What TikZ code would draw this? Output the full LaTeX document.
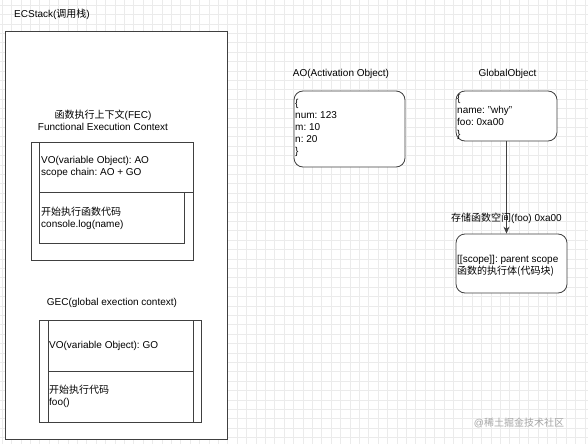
\documentclass[tikz,border=0pt]{standalone}
\usepackage{fontspec}
\setmainfont{Liberation Sans}
\newfontfamily\cjk{Noto Sans CJK SC}
\usepackage{tikz}
\usetikzlibrary{positioning,arrows.meta}
\frenchspacing
\tikzset{
  box/.style={rectangle, draw=black!75, line width=0.8pt, fill=white, inner sep=0pt},
  roundbox/.style={box, rounded corners=9pt},
  txt/.style={inner sep=0pt, align=left, anchor=west, font=\fontsize{10}{12}\selectfont},
  title/.style={inner sep=0pt, align=center, font=\fontsize{10}{12.5}\selectfont},
  link/.style={-{Stealth[length=7pt,width=6pt]}, line width=0.8pt, draw=black!75},
}
\begin{document}
\begin{tikzpicture}[x=1pt,y=-1pt]
  \useasboundingbox (0,0) rectangle (588,444);
  % background grid
  \fill[white] (0,0) rectangle (588,444);
  \foreach \i in {0,...,63} {
    \draw[black!8, line width=0.4pt] (\i*9.4+2,0) -- (\i*9.4+2,444);
  }
  \foreach \j in {0,...,47} {
    \draw[black!8, line width=0.4pt] (0,\j*9.4+5) -- (588,\j*9.4+5);
  }

  % call stack
  \node[title, anchor=west] (ecslab) at (14,14) {ECStack({\cjk 调用栈})};
  \node[box, minimum width=222pt, minimum height=408pt] (ecstack) at (116,235) {};

  % function execution context
  \node[title] (feclab) at (103,120.5) {{\cjk 函数执行上下文}(FEC)\\Functional Execution Context};
  \node[box, minimum width=162pt, minimum height=118pt] (fec) at (112,201) {};
  \node[box, minimum width=154pt, minimum height=50pt] (fecvo) at (116,167) {};
  \node[box, minimum width=145pt, minimum height=51pt] (feccode) at (111.5,217.5) {};
  \node[txt] (fecvotxt) at (41,167) {VO(variable Object): AO\\scope chain: AO + GO};
  \node[txt] (feccodetxt) at (41,218.5) {{\cjk 开始执行函数代码}\\console.log(name)};

  % global execution context
  \node[title] (geclab) at (112,303) {GEC(global exection context)};
  \node[box, minimum width=162pt, minimum height=102pt] (gec) at (120,371) {};
  \node[box, minimum width=145pt, minimum height=51pt] (gecvo) at (120.5,345.5) {};
  \node[box, minimum width=145pt, minimum height=51pt] (geccode) at (120.5,396.5) {};
  \node[txt] (gecvotxt) at (49,346) {VO(variable Object): GO};
  \node[txt] (geccodetxt) at (49,396.5) {{\cjk 开始执行代码}\\foo()};

  % activation object
  \node[title] (aolab) at (341,74) {AO(Activation Object)};
  \node[roundbox, minimum width=111pt, minimum height=76pt] (ao) at (349.5,129) {};
  \node[txt] (aotxt) at (295,128) {\{\\num: 123\\m: 10\\n: 20\\\}};

  % global object
  \node[title] (golab) at (507.5,74) {GlobalObject};
  \node[roundbox, minimum width=101pt, minimum height=50pt] (go) at (506.5,116) {};
  \node[txt] (gotxt) at (457,116.5) {\{\\name: "why"\\foo: 0xa00\\\}};

  % function object
  \node[roundbox, minimum width=111pt, minimum height=59pt] (fn) at (511.5,263.5) {};
  \node[txt] (fntxt) at (457,265.5) {[[scope]]: parent scope\\{\cjk 函数的执行体(代码块)}};

  \draw[link] (go.south) -- (go.south |- fn.north)
    node[title, pos=0.83, fill=none] (fnlab) {{\cjk 存储函数空间}(foo) 0xa00};

  \node[title, text=black!35] (mark) at (519,423) {@{\cjk 稀土掘金技术社区}};
\end{tikzpicture}
\end{document}
